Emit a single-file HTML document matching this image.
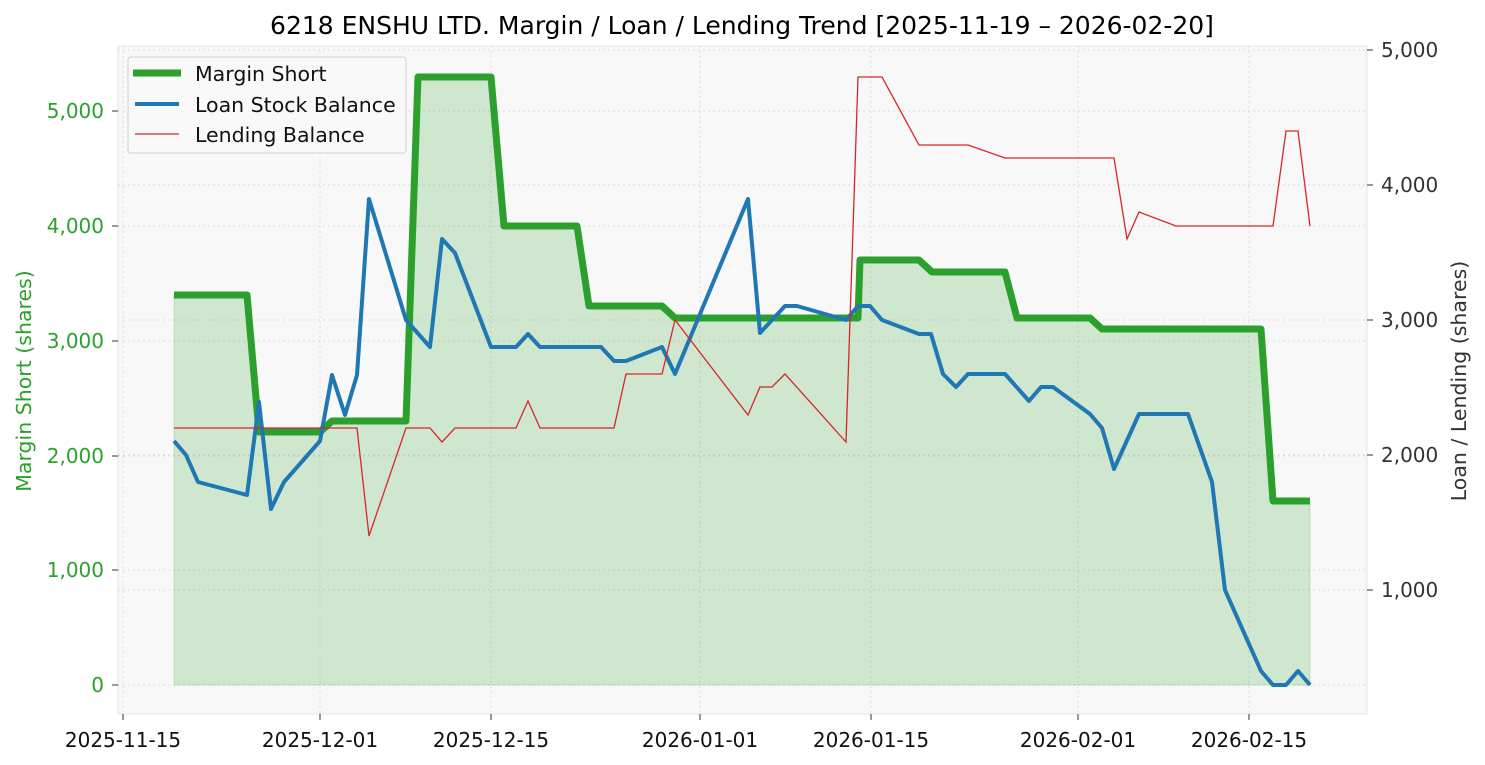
<!DOCTYPE html>
<html><head><meta charset="utf-8"><style>
body{margin:0;background:#fff;}
svg{display:block;font-family:"DejaVu Sans","Liberation Sans",sans-serif;}
</style></head><body>
<svg width="1485" height="765" viewBox="0 0 1485 765">
<rect x="0" y="0" width="1485" height="765" fill="#fff"/>
<rect x="118" y="46" width="1249" height="668" fill="#f8f8f8" stroke="#e6e6e6" stroke-width="1"/>
<g stroke="#dcdcdc" stroke-width="1" stroke-dasharray="2,3">
<line x1="118" x2="1367" y1="685" y2="685"/><line x1="118" x2="1367" y1="570" y2="570"/><line x1="118" x2="1367" y1="456" y2="456"/><line x1="118" x2="1367" y1="341" y2="341"/><line x1="118" x2="1367" y1="226" y2="226"/><line x1="118" x2="1367" y1="111" y2="111"/>
<line x1="118" x2="1367" y1="590" y2="590"/><line x1="118" x2="1367" y1="455" y2="455"/><line x1="118" x2="1367" y1="320" y2="320"/><line x1="118" x2="1367" y1="185" y2="185"/><line x1="118" x2="1367" y1="50" y2="50"/>
<line y1="46" y2="714" x1="123" x2="123"/><line y1="46" y2="714" x1="320" x2="320"/><line y1="46" y2="714" x1="491" x2="491"/><line y1="46" y2="714" x1="700" x2="700"/><line y1="46" y2="714" x1="871" x2="871"/><line y1="46" y2="714" x1="1078" x2="1078"/><line y1="46" y2="714" x1="1249" x2="1249"/>
</g>
<polygon fill="#2ca02c" fill-opacity="0.2" stroke="#2ca02c" stroke-opacity="0.2" points="174,685 174,295 247,295 259,432 320,432 332,421 406,421 418,77 491,77 504,226 577,226 589,306 662,306 675,318 858,318 860,260 919,260 932,272 1005,272 1017,318 1090,318 1102,329 1261,329 1273,501 1310,501 1310,685"/>
<polyline fill="none" stroke="#2ca02c" stroke-width="7" stroke-linejoin="round" points="174,295 247,295 259,432 320,432 332,421 406,421 418,77 491,77 504,226 577,226 589,306 662,306 675,318 858,318 860,260 919,260 932,272 1005,272 1017,318 1090,318 1102,329 1261,329 1273,501 1310,501"/>
<polyline fill="none" stroke="#1f77b4" stroke-width="4" stroke-linejoin="round" points="174,441 186,455 198,482 247,495 259,402 271,509 284,482 320,441 332,375 345,415 357,375 369,199 406,320 430,347 442,239 455,253 491,347 516,347 528,334 540,347 601,347 614,361 626,361 662,347 675,374 748,199 760,333 785,306 797,306 846,320 858,306 870,306 882,320 919,334 931,334 943,374 956,387 968,374 1005,374 1029,401 1041,387 1053,387 1090,414 1102,428 1114,469 1139,414 1188,414 1212,482 1225,590 1261,671 1273,685 1286,685 1298,671 1310,685"/>
<polyline fill="none" stroke="#d62728" stroke-width="1.3" points="174,428 357,428 369,536 406,428 430,428 442,442 455,428 516,428 528,401 540,428 614,428 626,374 662,374 675,320 748,415 760,387 772,387 785,374 846,442 858,77 882,77 919,145 968,145 1005,158 1114,158 1127,239 1139,212 1176,226 1273,226 1286,131 1298,131 1310,226"/>
<g fill="#2ca02c" font-size="20" text-anchor="end">
<text x="104" y="692">0</text><text x="104" y="577">1,000</text><text x="104" y="463">2,000</text><text x="104" y="348">3,000</text><text x="104" y="233">4,000</text><text x="104" y="118">5,000</text>
</g>
<g stroke="#333" stroke-width="1"><line x1="112" x2="118" y1="685" y2="685"/><line x1="112" x2="118" y1="570" y2="570"/><line x1="112" x2="118" y1="456" y2="456"/><line x1="112" x2="118" y1="341" y2="341"/><line x1="112" x2="118" y1="226" y2="226"/><line x1="112" x2="118" y1="111" y2="111"/>
<line x1="1367" x2="1373" y1="590" y2="590"/><line x1="1367" x2="1373" y1="455" y2="455"/><line x1="1367" x2="1373" y1="320" y2="320"/><line x1="1367" x2="1373" y1="185" y2="185"/><line x1="1367" x2="1373" y1="50" y2="50"/>
<line y1="714" y2="720" x1="123" x2="123"/><line y1="714" y2="720" x1="320" x2="320"/><line y1="714" y2="720" x1="491" x2="491"/><line y1="714" y2="720" x1="700" x2="700"/><line y1="714" y2="720" x1="871" x2="871"/><line y1="714" y2="720" x1="1078" x2="1078"/><line y1="714" y2="720" x1="1249" x2="1249"/></g>
<g fill="#333" font-size="20">
<text x="1381" y="597">1,000</text><text x="1381" y="462">2,000</text><text x="1381" y="327">3,000</text><text x="1381" y="192">4,000</text><text x="1381" y="57">5,000</text>
</g>
<g fill="#111" font-size="20" text-anchor="middle">
<text x="123" y="747">2025-11-15</text><text x="320" y="747">2025-12-01</text><text x="491" y="747">2025-12-15</text><text x="700" y="747">2026-01-01</text><text x="871" y="747">2026-01-15</text><text x="1078" y="747">2026-02-01</text><text x="1249" y="747">2026-02-15</text>
</g>
<text x="742" y="34" font-size="25" text-anchor="middle" fill="#000">6218 ENSHU LTD. Margin / Loan / Lending Trend [2025-11-19 – 2026-02-20]</text>
<text transform="translate(31,381) rotate(-90)" font-size="20.5" fill="#2ca02c" text-anchor="middle">Margin Short (shares)</text>
<text transform="translate(1466,381) rotate(-90)" font-size="20.5" fill="#333" text-anchor="middle">Loan / Lending (shares)</text>
<rect x="128" y="57" width="278" height="96" rx="3" fill="#f8f8f8" fill-opacity="0.9" stroke="#d0d0d0"/>
<line x1="133" x2="181" y1="73" y2="73" stroke="#2ca02c" stroke-width="7"/>
<line x1="135" x2="179" y1="104" y2="104" stroke="#1f77b4" stroke-width="4"/>
<line x1="135" x2="179" y1="134" y2="134" stroke="#d62728" stroke-width="1.3"/>
<g font-size="20.5" fill="#111"><text x="195" y="81">Margin Short</text><text x="195" y="112">Loan Stock Balance</text><text x="195" y="142">Lending Balance</text></g>
</svg>
</body></html>
